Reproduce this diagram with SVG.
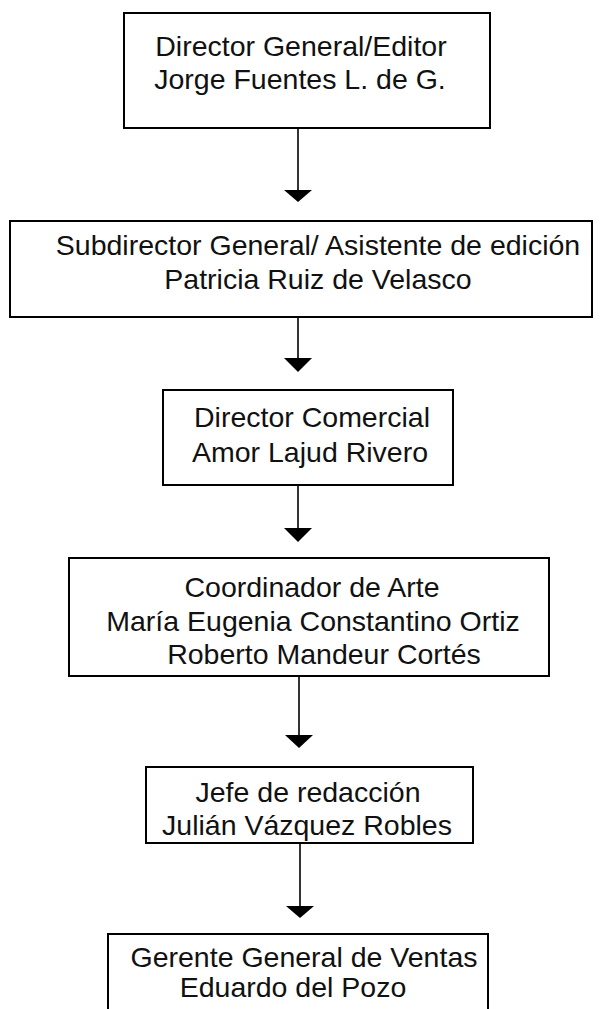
<svg xmlns="http://www.w3.org/2000/svg" width="600" height="1009" viewBox="0 0 600 1009">
<style>
.box{fill:#fff;stroke:#000;stroke-width:2}
.t{font-family:"Liberation Sans",Arial,sans-serif;font-size:28.5px;fill:#111;text-anchor:middle}
.ln{stroke:#000;stroke-width:1.6;fill:none}
.ah{fill:#000}
</style>
<rect width="600" height="1009" fill="#fff"/>
<g id="connectors">
<line class="ln" x1="298" y1="128" x2="298" y2="192"/>
<polygon class="ah" points="284,190 312,190 298,202"/>
<line class="ln" x1="298" y1="317" x2="298" y2="360"/>
<polygon class="ah" points="284,358 312,358 298,372"/>
<line class="ln" x1="298" y1="485" x2="298" y2="530"/>
<polygon class="ah" points="284,528 312,528 298,542"/>
<line class="ln" x1="299" y1="676" x2="299" y2="737"/>
<polygon class="ah" points="285,735 313,735 299,748"/>
<line class="ln" x1="300" y1="843" x2="300" y2="908"/>
<polygon class="ah" points="286,906 314,906 300,918"/>
</g>
<g id="n1">
<rect class="box" x="124" y="13" width="366" height="115"/>
<text class="t" x="301" y="56">Director General/Editor</text>
<text class="t" x="300" y="89">Jorge Fuentes L. de G.</text>
</g>
<g id="n2">
<rect class="box" x="10" y="221" width="582" height="96"/>
<text class="t" x="318" y="255">Subdirector General/ Asistente de edición</text>
<text class="t" x="318" y="289">Patricia Ruiz de Velasco</text>
</g>
<g id="n3">
<rect class="box" x="163" y="390" width="290" height="95"/>
<text class="t" x="312" y="427">Director Comercial</text>
<text class="t" x="310" y="462">Amor Lajud Rivero</text>
</g>
<g id="n4">
<rect class="box" x="69" y="558" width="480" height="118"/>
<text class="t" x="312" y="597">Coordinador de Arte</text>
<text class="t" x="313" y="631">María Eugenia Constantino Ortiz</text>
<text class="t" x="324" y="664">Roberto Mandeur Cortés</text>
</g>
<g id="n5">
<rect class="box" x="146" y="767" width="327" height="76"/>
<text class="t" x="308" y="802">Jefe de redacción</text>
<text class="t" x="307" y="835">Julián Vázquez Robles</text>
</g>
<g id="n6">
<rect class="box" x="108" y="934" width="380" height="90"/>
<text class="t" x="304" y="967">Gerente General de Ventas</text>
<text class="t" x="293" y="997">Eduardo del Pozo</text>
</g>
</svg>
